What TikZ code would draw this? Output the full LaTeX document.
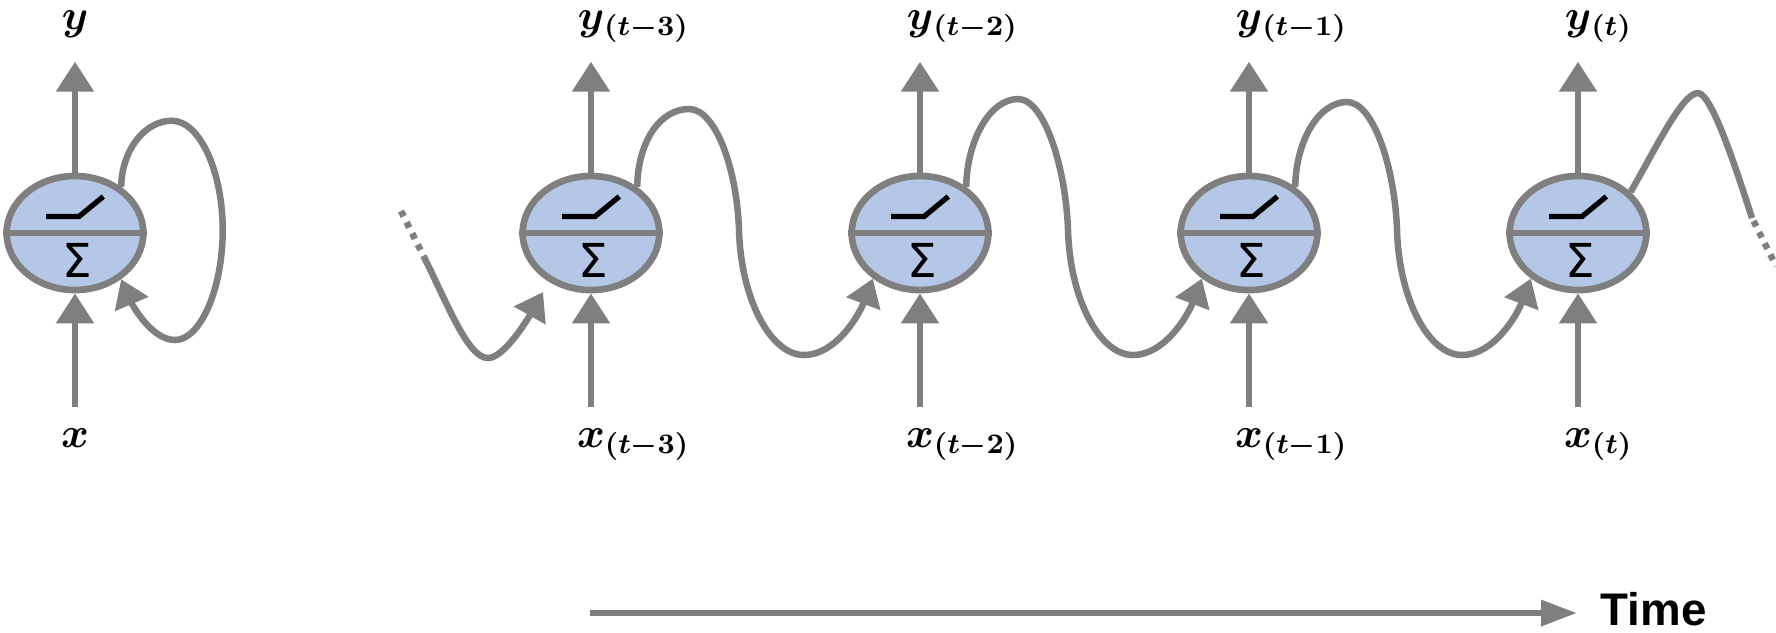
\documentclass[tikz,border=0pt]{standalone}
\usepackage{amsmath,bm,mathtools}
\usepackage{fontspec}
\newfontfamily\timefont{Liberation Sans}
\newfontfamily\sigfont{DejaVu Sans}
\usetikzlibrary{arrows.meta,shapes.geometric}
\definecolor{lgray}{HTML}{7F7F7F}
\definecolor{nblue}{HTML}{B4C7E7}
\begin{document}
\begin{tikzpicture}[x=0.01cm,y=-0.01cm,
  neuron/.style={ellipse, draw=lgray, fill=nblue, line width=1.9pt,
    minimum width=1.366cm, minimum height=1.14cm, inner sep=0pt},
  gline/.style={draw=lgray, line width=1.85pt},
  io/.style={gline, -{Triangle[length=0.30cm,width=0.367cm]}},
  rec/.style={gline, -{Triangle[length=0.27cm,width=0.35cm]}},
  dots/.style={gline, dash pattern=on 0.06cm off 0.065cm},
  stepfn/.style={draw=black, line width=1.5pt},
  lab/.style={inner sep=0pt, anchor=base, font=\fontsize{12}{14}\selectfont},
  sig/.style={inner sep=0pt, font=\sigfont\fontsize{13.3}{15}\selectfont},
  timearrow/.style={gline, -{Triangle[length=0.36cm,width=0.25cm]}}
]
\useasboundingbox (0,0) rectangle (1776,632);

% neurons
\node[neuron] (n0) at (75,233) {};
\node[neuron] (n1) at (591,233) {};
\node[neuron] (n2) at (920,233) {};
\node[neuron] (n3) at (1249,233) {};
\node[neuron] (n4) at (1578,233) {};

\foreach \i/\c in {0/75,1/591,2/920,3/1249,4/1578}{
  \draw[gline] (n\i.west) -- (n\i.east);
  \draw[stepfn] ({\c-29},216.5) -- ({\c+4},216.5) -- ({\c+28.3},196.5);
  \node[sig] (s\i) at ({\c+2},260.5) {Σ};
  \coordinate (top\i) at (\c,61.7);
  \coordinate (bot\i) at (\c,406.7);
  \draw[io] (n\i.north) -- (top\i);
  \draw[io] (bot\i) -- (n\i.south);
}

% labels
\node[lab] (ly0) at (75,29) {$\bm{y}$};
\node[lab] (lx0) at (75,447) {$\bm{x}$};
\node[lab] (ly1) at (591,29) {$\bm{y}\mathrlap{_{\bm{(t-3)}}}$};
\node[lab] (lx1) at (591,447) {$\bm{x}\mathrlap{_{\bm{(t-3)}}}$};
\node[lab] (ly2) at (920,29) {$\bm{y}\mathrlap{_{\bm{(t-2)}}}$};
\node[lab] (lx2) at (920,447) {$\bm{x}\mathrlap{_{\bm{(t-2)}}}$};
\node[lab] (ly3) at (1249,29) {$\bm{y}\mathrlap{_{\bm{(t-1)}}}$};
\node[lab] (lx3) at (1249,447) {$\bm{x}\mathrlap{_{\bm{(t-1)}}}$};
\node[lab] (ly4) at (1578,29) {$\bm{y}\mathrlap{_{\bm{(t)}}}$};
\node[lab] (lx4) at (1578,447) {$\bm{x}\mathrlap{_{\bm{(t)}}}$};

% self loop
\draw[rec] (n0.45) .. controls (121.7,150) and (145,120.7) .. (171.7,120.7)
  .. controls (200,120.7) and (222.7,172) .. (222.7,230)
  .. controls (222.7,290) and (200,340) .. (175,340)
  .. controls (150,340) and (130,300) .. (n0.-45);

% unrolled recurrent connections
\foreach \a/\b/\c/\p in {n1/n2/591/109, n2/n3/920/99, n3/n4/1249/102}{
  \draw[rec] (\a.45) .. controls ({\c+47},140) and ({\c+70},\p) .. ({\c+98},\p)
    .. controls ({\c+125},\p) and ({\c+146},170) .. ({\c+148},230)
    .. controls ({\c+150},300) and ({\c+180},355) .. ({\c+213},355)
    .. controls ({\c+245},355) and ({\c+268},315) .. (\b.224);
}

% incoming from the left
\coordinate (dl1) at (401,211);
\coordinate (dl2) at (424,257);
\coordinate (inTip) at (543,292);
\draw[dots] (dl1) -- (dl2);
\draw[rec] (dl2) .. controls (448,305) and (468,358) .. (488,358)
  .. controls (505,358) and (530,315) .. (inTip);

% outgoing to the right
\coordinate (dr1) at (1752,218);
\coordinate (dr2) at (1776,266);
\draw[gline] (n4.38) .. controls (1655,150) and (1682,93) .. (1698,93)
  .. controls (1712,93) and (1738,175) .. (dr1);
\draw[dots] ([shift={(1.5,3)}]dr1) -- (dr2);

% time axis
\coordinate (ta) at (590,613);
\coordinate (tb) at (1577,613);
\draw[timearrow] (ta) -- (tb);
\node[anchor=base west, inner sep=0pt, font=\timefont\bfseries\fontsize{13}{15}\selectfont] (time) at (1600,625) {Time};
\end{tikzpicture}
\end{document}
